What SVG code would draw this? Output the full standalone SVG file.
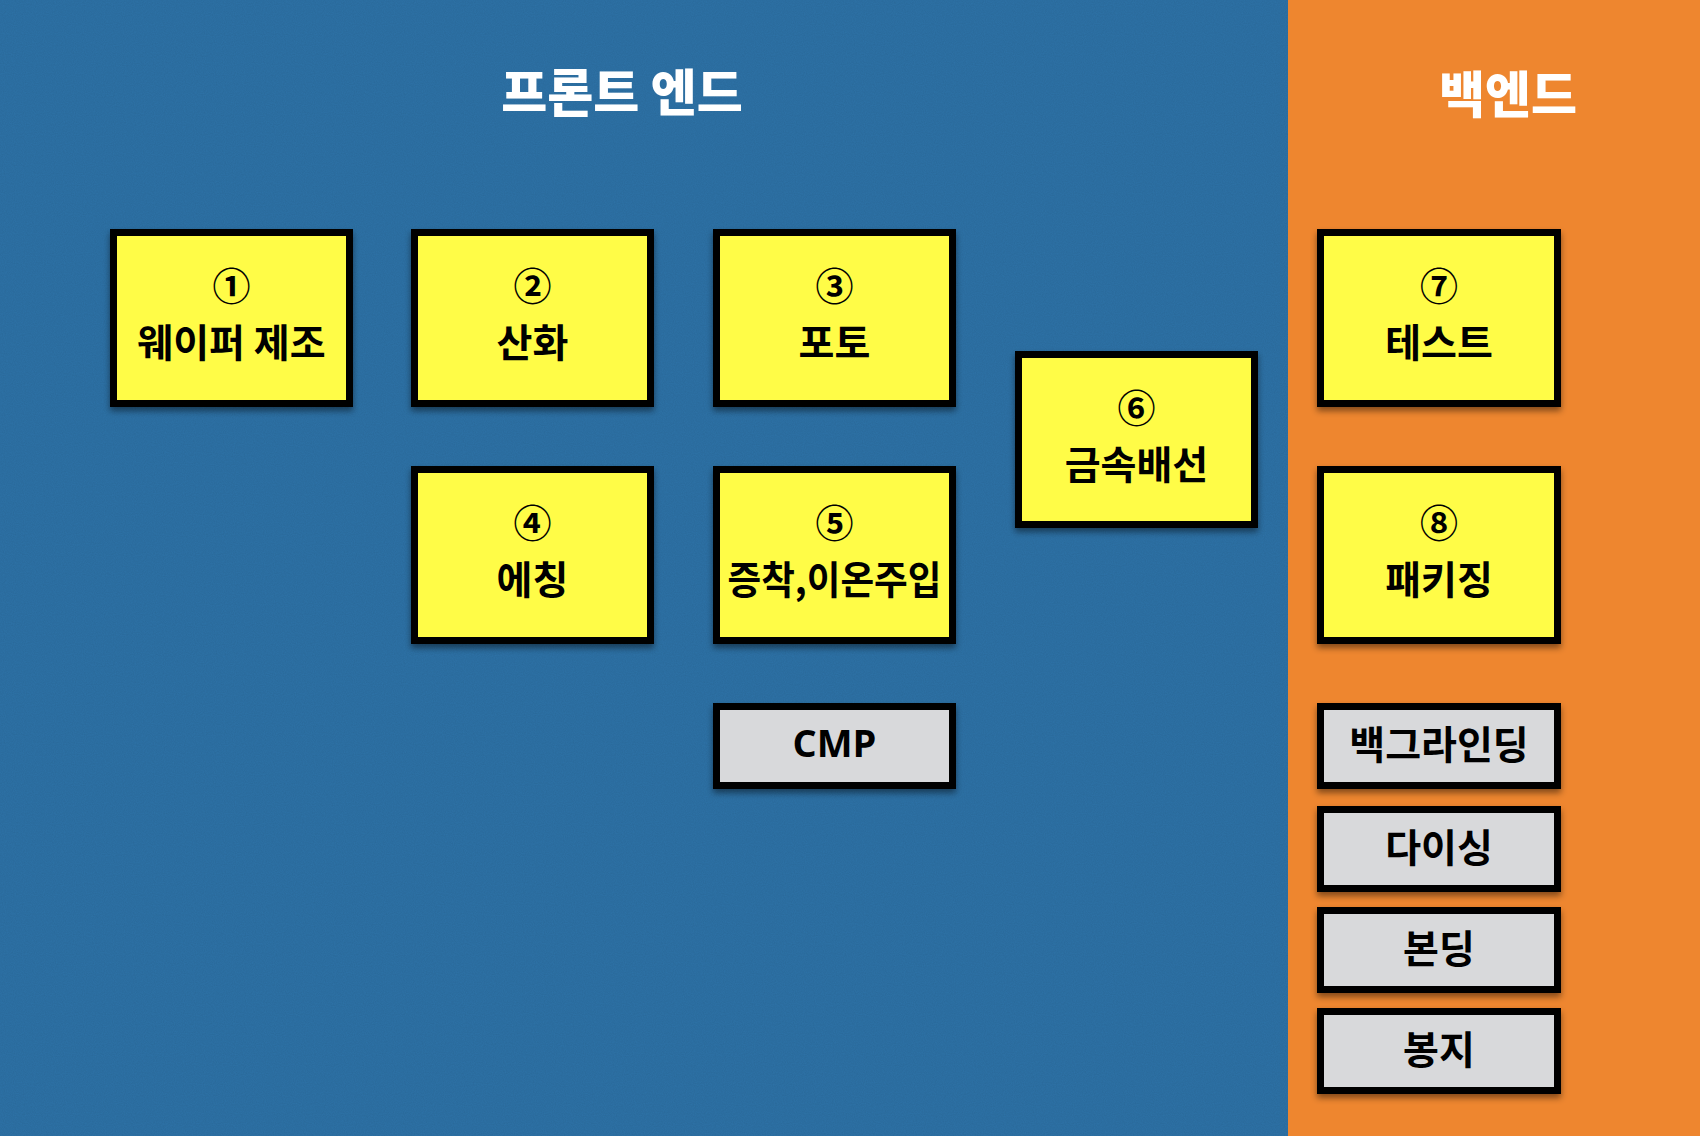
<svg xmlns="http://www.w3.org/2000/svg" width="1700" height="1136" viewBox="0 0 1700 1136">
<defs>
<filter id="sh" x="-10%" y="-10%" width="120%" height="130%">
<feDropShadow dx="0" dy="4" stdDeviation="3" flood-color="#000" flood-opacity="0.45"/>
</filter>
<filter id="tex" x="0" y="0" width="100%" height="100%">
<feTurbulence type="fractalNoise" baseFrequency="0.9" numOctaves="2" seed="3" result="n"/>
<feColorMatrix in="n" type="matrix" values="0 0 0 0 0  0 0 0 0 0  0 0 0 0 0  0 0 0 0.08 0"/>
</filter>
</defs>
<style>
.box{stroke:#000;stroke-width:7;filter:url(#sh)}
.y{fill:#FFFC47}
.g{fill:#D8D9DB}
.t{font-family:"Noto Sans CJK KR","Noto Sans",sans-serif;font-weight:bold;font-size:39px;fill:#000;text-anchor:middle}
.n{font-family:"Noto Sans CJK KR","DejaVu Sans",sans-serif;font-weight:bold;font-size:38px;fill:#000;text-anchor:middle}
.cmp{font-family:"Open Sans","Noto Sans",sans-serif;font-weight:bold;font-size:38px;fill:#000;text-anchor:middle}
.h{font-family:"Noto Sans CJK KR",sans-serif;font-weight:900;font-size:50px;fill:#fff;text-anchor:middle}
</style>
<rect x="0" y="0" width="1288" height="1136" fill="#2D72A7"/>
<rect x="1288" y="0" width="412" height="1136" fill="#EE862F"/>
<rect x="0" y="0" width="1288" height="1136" filter="url(#tex)"/>
<text class="h" x="622" y="111">프론트 엔드</text>
<text class="h" x="1508" y="113">백엔드</text>
<g id="connectors"></g>
<g id="n1"><rect class="box y" x="113.5" y="232.5" width="236" height="171"/><text class="n" x="231.5" y="300">①</text><text class="t" x="231.5" y="357">웨이퍼 제조</text></g>
<g id="n2"><rect class="box y" x="414.5" y="232.5" width="236" height="171"/><text class="n" x="532.5" y="300">②</text><text class="t" x="532.5" y="357">산화</text></g>
<g id="n3"><rect class="box y" x="716.5" y="232.5" width="236" height="171"/><text class="n" x="834.5" y="300">③</text><text class="t" x="834.5" y="357">포토</text></g>
<g id="n4"><rect class="box y" x="414.5" y="469.5" width="236" height="171"/><text class="n" x="532.5" y="537">④</text><text class="t" x="532.5" y="594">에칭</text></g>
<g id="n5"><rect class="box y" x="716.5" y="469.5" width="236" height="171"/><text class="n" x="834.5" y="537">⑤</text><text class="t" x="834.5" y="594" textLength="214" lengthAdjust="spacingAndGlyphs">증착,이온주입</text></g>
<g id="n6"><rect class="box y" x="1018.5" y="354.5" width="236" height="170"/><text class="n" x="1136.5" y="422">⑥</text><text class="t" x="1136.5" y="479">금속배선</text></g>
<g id="n7"><rect class="box y" x="1320.5" y="232.5" width="237" height="171"/><text class="n" x="1439" y="300">⑦</text><text class="t" x="1439" y="357">테스트</text></g>
<g id="n8"><rect class="box y" x="1320.5" y="469.5" width="237" height="171"/><text class="n" x="1439" y="537">⑧</text><text class="t" x="1439" y="594">패키징</text></g>
<g id="cmp"><rect class="box g" x="716.5" y="706.5" width="236" height="79"/><text class="cmp" x="834.5" y="757">CMP</text></g>
<g id="bg"><rect class="box g" x="1320.5" y="706.5" width="237" height="79"/><text class="t" x="1439" y="759">백그라인딩</text></g>
<g id="dc"><rect class="box g" x="1320.5" y="809.5" width="237" height="79"/><text class="t" x="1439" y="862">다이싱</text></g>
<g id="bd"><rect class="box g" x="1320.5" y="910.5" width="237" height="79"/><text class="t" x="1439" y="963">본딩</text></g>
<g id="bj"><rect class="box g" x="1320.5" y="1011.5" width="237" height="79"/><text class="t" x="1439" y="1064">봉지</text></g>
</svg>
